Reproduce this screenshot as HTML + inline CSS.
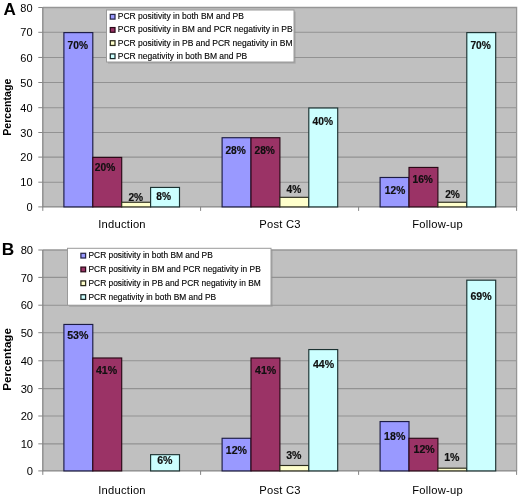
<!DOCTYPE html>
<html><head><meta charset="utf-8"><style>
html,body{margin:0;padding:0;background:#fff;}
svg{display:block;font-family:"Liberation Sans",sans-serif;will-change:transform;}
</style></head><body>
<svg width="520" height="501" viewBox="0 0 520 501">
<rect width="520" height="501" fill="#fff"/>
<rect x="42.8" y="7.5" width="473.8" height="199.4" fill="#c0c0c0"/>
<line x1="42.8" y1="32.30" x2="516.6" y2="32.30" stroke="#929292" stroke-width="1.1"/>
<line x1="42.8" y1="57.45" x2="516.6" y2="57.45" stroke="#929292" stroke-width="1.1"/>
<line x1="42.8" y1="82.50" x2="516.6" y2="82.50" stroke="#929292" stroke-width="1.1"/>
<line x1="42.8" y1="107.70" x2="516.6" y2="107.70" stroke="#929292" stroke-width="1.1"/>
<line x1="42.8" y1="132.50" x2="516.6" y2="132.50" stroke="#929292" stroke-width="1.1"/>
<line x1="42.8" y1="157.10" x2="516.6" y2="157.10" stroke="#929292" stroke-width="1.1"/>
<line x1="42.8" y1="182.20" x2="516.6" y2="182.20" stroke="#929292" stroke-width="1.1"/>
<polyline points="42.8,7.5 516.6,7.5 516.6,206.9" fill="none" stroke="#969696" stroke-width="1.3"/>
<polyline points="42.8,7.5 42.8,206.9 516.6,206.9" fill="none" stroke="#858585" stroke-width="1.3"/>
<line x1="38.3" y1="206.90" x2="42.8" y2="206.90" stroke="#858585" stroke-width="1"/>
<text x="32.6" y="211.00" text-anchor="end" font-size="11">0</text>
<line x1="38.3" y1="182.20" x2="42.8" y2="182.20" stroke="#858585" stroke-width="1"/>
<text x="32.6" y="186.30" text-anchor="end" font-size="11">10</text>
<line x1="38.3" y1="157.10" x2="42.8" y2="157.10" stroke="#858585" stroke-width="1"/>
<text x="32.6" y="161.20" text-anchor="end" font-size="11">20</text>
<line x1="38.3" y1="132.50" x2="42.8" y2="132.50" stroke="#858585" stroke-width="1"/>
<text x="32.6" y="136.60" text-anchor="end" font-size="11">30</text>
<line x1="38.3" y1="107.70" x2="42.8" y2="107.70" stroke="#858585" stroke-width="1"/>
<text x="32.6" y="111.80" text-anchor="end" font-size="11">40</text>
<line x1="38.3" y1="82.50" x2="42.8" y2="82.50" stroke="#858585" stroke-width="1"/>
<text x="32.6" y="86.60" text-anchor="end" font-size="11">50</text>
<line x1="38.3" y1="57.45" x2="42.8" y2="57.45" stroke="#858585" stroke-width="1"/>
<text x="32.6" y="61.55" text-anchor="end" font-size="11">60</text>
<line x1="38.3" y1="32.30" x2="42.8" y2="32.30" stroke="#858585" stroke-width="1"/>
<text x="32.6" y="36.40" text-anchor="end" font-size="11">70</text>
<line x1="38.3" y1="7.50" x2="42.8" y2="7.50" stroke="#858585" stroke-width="1"/>
<text x="32.6" y="11.60" text-anchor="end" font-size="11">80</text>
<line x1="42.8" y1="206.9" x2="42.8" y2="210.9" stroke="#858585" stroke-width="1"/>
<line x1="200.6" y1="206.9" x2="200.6" y2="210.9" stroke="#858585" stroke-width="1"/>
<line x1="358.6" y1="206.9" x2="358.6" y2="210.9" stroke="#858585" stroke-width="1"/>
<line x1="516.6" y1="206.9" x2="516.6" y2="210.9" stroke="#858585" stroke-width="1"/>
<rect x="63.90" y="32.60" width="28.9" height="174.30" fill="#9999ff" stroke="#1c1c44" stroke-width="1.15"/>
<rect x="92.80" y="157.40" width="28.9" height="49.50" fill="#9b3366" stroke="#2a0816" stroke-width="1.15"/>
<rect x="121.70" y="202.26" width="28.9" height="4.64" fill="#ffffcc" stroke="#2c2c1c" stroke-width="1.15"/>
<rect x="150.60" y="187.44" width="28.9" height="19.46" fill="#ccffff" stroke="#1c3232" stroke-width="1.15"/>
<rect x="222.10" y="137.72" width="28.9" height="69.18" fill="#9999ff" stroke="#1c1c44" stroke-width="1.15"/>
<rect x="251.00" y="137.72" width="28.9" height="69.18" fill="#9b3366" stroke="#2a0816" stroke-width="1.15"/>
<rect x="279.90" y="197.32" width="28.9" height="9.58" fill="#ffffcc" stroke="#2c2c1c" stroke-width="1.15"/>
<rect x="308.80" y="108.00" width="28.9" height="98.90" fill="#ccffff" stroke="#1c3232" stroke-width="1.15"/>
<rect x="380.10" y="177.48" width="28.9" height="29.42" fill="#9999ff" stroke="#1c1c44" stroke-width="1.15"/>
<rect x="409.00" y="167.44" width="28.9" height="39.46" fill="#9b3366" stroke="#2a0816" stroke-width="1.15"/>
<rect x="437.90" y="202.26" width="28.9" height="4.64" fill="#ffffcc" stroke="#2c2c1c" stroke-width="1.15"/>
<rect x="466.80" y="32.60" width="28.9" height="174.30" fill="#ccffff" stroke="#1c3232" stroke-width="1.15"/>
<text x="77.75" y="48.62" text-anchor="middle" font-size="10.2" font-weight="bold" fill="#101010" stroke="#101010" stroke-width="0.18">70%</text>
<text x="105.00" y="171.02" text-anchor="middle" font-size="10.2" font-weight="bold" fill="#101010" stroke="#101010" stroke-width="0.18">20%</text>
<text x="135.80" y="200.52" text-anchor="middle" font-size="10.2" font-weight="bold" fill="#101010" stroke="#101010" stroke-width="0.18">2%</text>
<text x="163.70" y="199.97" text-anchor="middle" font-size="10.2" font-weight="bold" fill="#101010" stroke="#101010" stroke-width="0.18">8%</text>
<text x="235.60" y="153.57" text-anchor="middle" font-size="10.2" font-weight="bold" fill="#101010" stroke="#101010" stroke-width="0.18">28%</text>
<text x="264.70" y="153.67" text-anchor="middle" font-size="10.2" font-weight="bold" fill="#101010" stroke="#101010" stroke-width="0.18">28%</text>
<text x="293.90" y="192.67" text-anchor="middle" font-size="10.2" font-weight="bold" fill="#101010" stroke="#101010" stroke-width="0.18">4%</text>
<text x="322.80" y="124.67" text-anchor="middle" font-size="10.2" font-weight="bold" fill="#101010" stroke="#101010" stroke-width="0.18">40%</text>
<text x="395.00" y="193.57" text-anchor="middle" font-size="10.2" font-weight="bold" fill="#101010" stroke="#101010" stroke-width="0.18">12%</text>
<text x="422.70" y="182.77" text-anchor="middle" font-size="10.2" font-weight="bold" fill="#101010" stroke="#101010" stroke-width="0.18">16%</text>
<text x="452.50" y="197.77" text-anchor="middle" font-size="10.2" font-weight="bold" fill="#101010" stroke="#101010" stroke-width="0.18">2%</text>
<text x="480.60" y="48.67" text-anchor="middle" font-size="10.2" font-weight="bold" fill="#101010" stroke="#101010" stroke-width="0.18">70%</text>
<text x="122" y="227.8" text-anchor="middle" font-size="11.2" letter-spacing="0.25">Induction</text>
<text x="280" y="227.8" text-anchor="middle" font-size="11.2" letter-spacing="0.25">Post C3</text>
<text x="437.6" y="227.8" text-anchor="middle" font-size="11.2" letter-spacing="0.25">Follow-up</text>
<text x="3.5" y="15.3" font-size="17.1" font-weight="bold">A</text>
<text transform="translate(10.8,107.2) rotate(-90)" text-anchor="middle" font-size="10.6" font-weight="bold">Percentage</text>
<rect x="108.1" y="11.6" width="187.5" height="52" fill="#8e8e8e" opacity="0.55"/>
<rect x="106.5" y="10" width="187.5" height="52" fill="#ffffff" stroke="#9a9a9a" stroke-width="1"/>
<rect x="110.3" y="14.40" width="4.7" height="4.7" fill="#9999ff" stroke="#26264a" stroke-width="1.25"/>
<text x="117.8" y="19.30" font-size="8.5" fill="#000" stroke="#000" stroke-width="0.12">PCR positivity in both BM and PB</text>
<rect x="110.3" y="27.57" width="4.7" height="4.7" fill="#9b3366" stroke="#2a0a18" stroke-width="1.25"/>
<text x="117.8" y="32.47" font-size="8.5" fill="#000" stroke="#000" stroke-width="0.12">PCR positivity in BM and PCR negativity in PB</text>
<rect x="110.3" y="40.74" width="4.7" height="4.7" fill="#ffffcc" stroke="#2a2a1a" stroke-width="1.25"/>
<text x="117.8" y="45.64" font-size="8.5" fill="#000" stroke="#000" stroke-width="0.12">PCR positivity in PB and PCR negativity in BM</text>
<rect x="110.3" y="53.91" width="4.7" height="4.7" fill="#ccffff" stroke="#1a2a2a" stroke-width="1.25"/>
<text x="117.8" y="58.81" font-size="8.5" fill="#000" stroke="#000" stroke-width="0.12">PCR negativity in both BM and PB</text>
<rect x="42.8" y="250.0" width="473.8" height="220.89999999999998" fill="#c0c0c0"/>
<line x1="42.8" y1="277.40" x2="516.6" y2="277.40" stroke="#929292" stroke-width="1.1"/>
<line x1="42.8" y1="305.20" x2="516.6" y2="305.20" stroke="#929292" stroke-width="1.1"/>
<line x1="42.8" y1="332.70" x2="516.6" y2="332.70" stroke="#929292" stroke-width="1.1"/>
<line x1="42.8" y1="360.80" x2="516.6" y2="360.80" stroke="#929292" stroke-width="1.1"/>
<line x1="42.8" y1="388.60" x2="516.6" y2="388.60" stroke="#929292" stroke-width="1.1"/>
<line x1="42.8" y1="416.00" x2="516.6" y2="416.00" stroke="#929292" stroke-width="1.1"/>
<line x1="42.8" y1="443.85" x2="516.6" y2="443.85" stroke="#929292" stroke-width="1.1"/>
<polyline points="42.8,250.0 516.6,250.0 516.6,470.9" fill="none" stroke="#969696" stroke-width="1.3"/>
<polyline points="42.8,250.0 42.8,470.9 516.6,470.9" fill="none" stroke="#858585" stroke-width="1.3"/>
<line x1="38.3" y1="470.90" x2="42.8" y2="470.90" stroke="#858585" stroke-width="1"/>
<text x="33.1" y="475.10" text-anchor="end" font-size="11.2">0</text>
<line x1="38.3" y1="443.85" x2="42.8" y2="443.85" stroke="#858585" stroke-width="1"/>
<text x="33.1" y="448.05" text-anchor="end" font-size="11.2">10</text>
<line x1="38.3" y1="416.00" x2="42.8" y2="416.00" stroke="#858585" stroke-width="1"/>
<text x="33.1" y="420.20" text-anchor="end" font-size="11.2">20</text>
<line x1="38.3" y1="388.60" x2="42.8" y2="388.60" stroke="#858585" stroke-width="1"/>
<text x="33.1" y="392.80" text-anchor="end" font-size="11.2">30</text>
<line x1="38.3" y1="360.80" x2="42.8" y2="360.80" stroke="#858585" stroke-width="1"/>
<text x="33.1" y="365.00" text-anchor="end" font-size="11.2">40</text>
<line x1="38.3" y1="332.70" x2="42.8" y2="332.70" stroke="#858585" stroke-width="1"/>
<text x="33.1" y="336.90" text-anchor="end" font-size="11.2">50</text>
<line x1="38.3" y1="305.20" x2="42.8" y2="305.20" stroke="#858585" stroke-width="1"/>
<text x="33.1" y="309.40" text-anchor="end" font-size="11.2">60</text>
<line x1="38.3" y1="277.40" x2="42.8" y2="277.40" stroke="#858585" stroke-width="1"/>
<text x="33.1" y="281.60" text-anchor="end" font-size="11.2">70</text>
<line x1="38.3" y1="250.00" x2="42.8" y2="250.00" stroke="#858585" stroke-width="1"/>
<text x="33.1" y="254.20" text-anchor="end" font-size="11.2">80</text>
<line x1="42.8" y1="470.9" x2="42.8" y2="474.9" stroke="#858585" stroke-width="1"/>
<line x1="200.6" y1="470.9" x2="200.6" y2="474.9" stroke="#858585" stroke-width="1"/>
<line x1="358.6" y1="470.9" x2="358.6" y2="474.9" stroke="#858585" stroke-width="1"/>
<line x1="516.6" y1="470.9" x2="516.6" y2="474.9" stroke="#858585" stroke-width="1"/>
<rect x="63.90" y="324.45" width="28.9" height="146.45" fill="#9999ff" stroke="#1c1c44" stroke-width="1.15"/>
<rect x="92.80" y="357.99" width="28.9" height="112.91" fill="#9b3366" stroke="#2a0816" stroke-width="1.15"/>
<rect x="150.60" y="454.67" width="28.9" height="16.23" fill="#ccffff" stroke="#1c3232" stroke-width="1.15"/>
<rect x="222.10" y="438.28" width="28.9" height="32.62" fill="#9999ff" stroke="#1c1c44" stroke-width="1.15"/>
<rect x="251.00" y="357.99" width="28.9" height="112.91" fill="#9b3366" stroke="#2a0816" stroke-width="1.15"/>
<rect x="279.90" y="465.49" width="28.9" height="5.41" fill="#ffffcc" stroke="#2c2c1c" stroke-width="1.15"/>
<rect x="308.80" y="349.56" width="28.9" height="121.34" fill="#ccffff" stroke="#1c3232" stroke-width="1.15"/>
<rect x="380.10" y="421.57" width="28.9" height="49.33" fill="#9999ff" stroke="#1c1c44" stroke-width="1.15"/>
<rect x="409.00" y="438.28" width="28.9" height="32.62" fill="#9b3366" stroke="#2a0816" stroke-width="1.15"/>
<rect x="437.90" y="468.19" width="28.9" height="2.70" fill="#ffffcc" stroke="#2c2c1c" stroke-width="1.15"/>
<rect x="466.80" y="280.18" width="28.9" height="190.72" fill="#ccffff" stroke="#1c3232" stroke-width="1.15"/>
<text x="77.80" y="338.52" text-anchor="middle" font-size="10.6" font-weight="bold" fill="#101010" stroke="#101010" stroke-width="0.18">53%</text>
<text x="106.50" y="373.82" text-anchor="middle" font-size="10.6" font-weight="bold" fill="#101010" stroke="#101010" stroke-width="0.18">41%</text>
<text x="164.80" y="463.82" text-anchor="middle" font-size="10.6" font-weight="bold" fill="#101010" stroke="#101010" stroke-width="0.18">6%</text>
<text x="236.40" y="453.72" text-anchor="middle" font-size="10.6" font-weight="bold" fill="#101010" stroke="#101010" stroke-width="0.18">12%</text>
<text x="265.60" y="373.62" text-anchor="middle" font-size="10.6" font-weight="bold" fill="#101010" stroke="#101010" stroke-width="0.18">41%</text>
<text x="293.80" y="458.82" text-anchor="middle" font-size="10.6" font-weight="bold" fill="#101010" stroke="#101010" stroke-width="0.18">3%</text>
<text x="323.50" y="368.12" text-anchor="middle" font-size="10.6" font-weight="bold" fill="#101010" stroke="#101010" stroke-width="0.18">44%</text>
<text x="394.70" y="440.32" text-anchor="middle" font-size="10.6" font-weight="bold" fill="#101010" stroke="#101010" stroke-width="0.18">18%</text>
<text x="424.10" y="453.02" text-anchor="middle" font-size="10.6" font-weight="bold" fill="#101010" stroke="#101010" stroke-width="0.18">12%</text>
<text x="451.80" y="461.12" text-anchor="middle" font-size="10.6" font-weight="bold" fill="#101010" stroke="#101010" stroke-width="0.18">1%</text>
<text x="481.00" y="299.82" text-anchor="middle" font-size="10.6" font-weight="bold" fill="#101010" stroke="#101010" stroke-width="0.18">69%</text>
<text x="122" y="494" text-anchor="middle" font-size="11.2" letter-spacing="0.25">Induction</text>
<text x="280" y="494" text-anchor="middle" font-size="11.2" letter-spacing="0.25">Post C3</text>
<text x="437.6" y="494" text-anchor="middle" font-size="11.2" letter-spacing="0.25">Follow-up</text>
<text x="1.7" y="255.0" font-size="17.3" font-weight="bold">B</text>
<text transform="translate(10.9,359.4) rotate(-90)" text-anchor="middle" font-size="11.6" font-weight="bold">Percentage</text>
<rect x="69.1" y="249.9" width="203.5" height="56.9" fill="#8e8e8e" opacity="0.55"/>
<rect x="67.5" y="248.3" width="203.5" height="56.9" fill="#ffffff" stroke="#9a9a9a" stroke-width="1"/>
<rect x="80.9" y="253.30" width="4.7" height="4.7" fill="#9999ff" stroke="#26264a" stroke-width="1.25"/>
<text x="88.5" y="258.20" font-size="8.4" fill="#000" stroke="#000" stroke-width="0.12">PCR positivity in both BM and PB</text>
<rect x="80.9" y="267.10" width="4.7" height="4.7" fill="#9b3366" stroke="#2a0a18" stroke-width="1.25"/>
<text x="88.5" y="272.00" font-size="8.4" fill="#000" stroke="#000" stroke-width="0.12">PCR positivity in BM and PCR negativity in PB</text>
<rect x="80.9" y="280.90" width="4.7" height="4.7" fill="#ffffcc" stroke="#2a2a1a" stroke-width="1.25"/>
<text x="88.5" y="285.80" font-size="8.4" fill="#000" stroke="#000" stroke-width="0.12">PCR positivity in PB and PCR negativity in BM</text>
<rect x="80.9" y="294.70" width="4.7" height="4.7" fill="#ccffff" stroke="#1a2a2a" stroke-width="1.25"/>
<text x="88.5" y="299.60" font-size="8.4" fill="#000" stroke="#000" stroke-width="0.12">PCR negativity in both BM and PB</text>
</svg>
</body></html>
